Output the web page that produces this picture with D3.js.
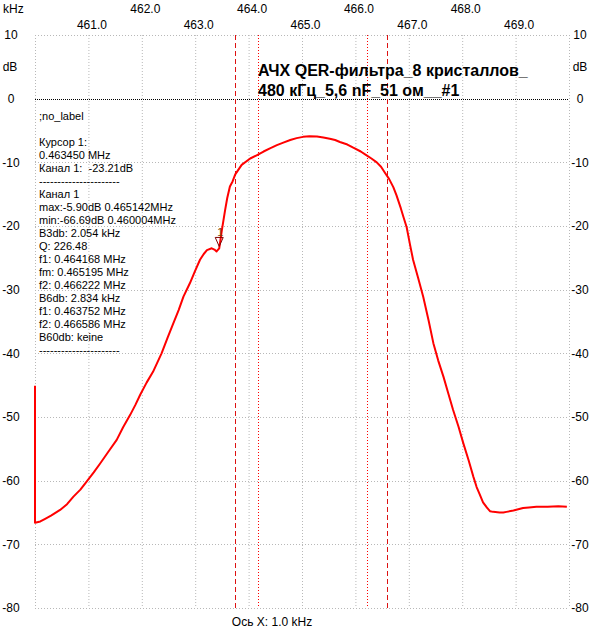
<!DOCTYPE html>
<html>
<head>
<meta charset="utf-8">
<script src="https://cdn.jsdelivr.net/npm/d3@7"></script>
<style>
body{margin:0;background:#fff;}
svg{display:block;}
text{font-family:"Liberation Sans",Arial,sans-serif;}
</style>
</head>
<body>
<svg id="chart" width="602" height="643"></svg>
<script>
// ---- data ----
const freqKHz = [460.00,460.00,460.10,460.19,460.30,460.47,460.60,460.72,460.85,460.97,461.10,461.22,461.37,461.53,461.65,461.78,461.88,461.97,462.09,462.21,462.37,462.48,462.59,462.69,462.78,462.90,463.00,463.09,463.16,463.22,463.31,463.36,463.40,463.45,463.50,463.56,463.60,463.65,463.70,463.75,463.87,464.03,464.15,464.28,464.40,464.53,464.65,464.78,464.90,465.02,465.14,465.28,465.40,465.52,465.62,465.71,465.85,465.96,466.10,466.21,466.30,466.40,466.48,466.55,466.63,466.71,466.77,466.85,466.90,466.96,467.02,467.08,467.17,467.27,467.37,467.46,467.55,467.65,467.74,467.83,467.93,468.02,468.12,468.21,468.27,468.33,468.39,468.46,468.52,468.58,468.70,468.77,468.83,468.96,469.05,469.14,469.25,469.39,469.60,469.80,469.96];
const levelDB = [-45.1,-66.6,-66.4,-66.0,-65.5,-64.6,-63.7,-62.5,-61.4,-60.1,-58.7,-57.3,-55.5,-53.6,-51.6,-49.7,-48.1,-46.5,-44.6,-42.9,-40.0,-37.6,-35.3,-33.2,-31.1,-29.0,-27.0,-25.3,-24.4,-23.8,-23.5,-23.7,-24.0,-23.5,-20.6,-17.5,-15.6,-13.8,-13.0,-11.9,-10.4,-9.4,-8.9,-8.3,-7.8,-7.3,-6.9,-6.5,-6.2,-6.0,-5.9,-5.95,-6.1,-6.3,-6.5,-6.8,-7.2,-7.7,-8.3,-8.9,-9.4,-10.0,-10.7,-11.6,-12.6,-13.9,-15.2,-17.2,-18.6,-20.2,-22.8,-25.3,-28.0,-31.1,-34.8,-38.4,-41.1,-43.7,-46.3,-48.9,-51.5,-54.1,-56.8,-59.4,-61.0,-62.2,-63.4,-64.2,-64.8,-64.9,-65.0,-65.0,-64.9,-64.7,-64.5,-64.3,-64.2,-64.1,-64.1,-64.0,-64.1];

const xTicksTop = [462,464,466,468];
const xTicksBottomRow = [461,463,465,467,469];
const xGrid = [460,461,462,463,464,465,466,467,468,469,470];
const yTicks = [10,0,-10,-20,-30,-40,-50,-60,-70,-80];

const b6Lines = [463.752, 466.586];   // dashed
const b3Lines = [464.168, 466.222];   // dotted
const cursorF = 463.450, cursorDB = -23.21;

const titleLines = ["АЧХ QER-фильтра_8 кристаллов_", "480 кГц_5,6 nF_51 ом__#1"];
const infoLines = [";no_label","","Курсор 1:","0.463450 MHz","Канал 1:  -23.21dB","----------------------","Канал 1","max:-5.90dB 0.465142MHz","min:-66.69dB 0.460004MHz","B3db: 2.054 kHz","Q: 226.48","f1: 0.464168 MHz","fm: 0.465195 MHz","f2: 0.466222 MHz","B6db: 2.834 kHz","f1: 0.463752 MHz","f2: 0.466586 MHz","B60db: keine","----------------------"];

// ---- layout ----
const L = 35, R = 569, T = 35, B = 608;
const svg = d3.select("#chart");
svg.append("rect").attr("width",602).attr("height",643).attr("fill","#fff");

const x = d3.scaleLinear().domain([460,470]).range([L,R]);
const y = d3.scaleLinear().domain([10,-80]).range([T,B]);

// grid
const grid = svg.append("g");
grid.selectAll("line.v").data(xGrid).join("line")
  .attr("x1",d=>x(d)+0.5).attr("x2",d=>x(d)+0.5).attr("y1",T).attr("y2",B)
  .attr("stroke","#b8b8b8").attr("stroke-dasharray","1,2");
grid.selectAll("line.h").data(yTicks.filter(d=>d!==0)).join("line")
  .attr("y1",d=>Math.round(y(d))+0.5).attr("y2",d=>Math.round(y(d))+0.5).attr("x1",L).attr("x2",R)
  .attr("stroke","#b8b8b8").attr("stroke-dasharray","1,2");
svg.append("line").attr("x1",L).attr("x2",R).attr("y1",Math.round(y(0))+0.5).attr("y2",Math.round(y(0))+0.5)
  .attr("stroke","#000").attr("stroke-dasharray","1,1");

// marker lines
svg.selectAll("line.b6").data(b6Lines).join("line")
  .attr("x1",d=>Math.round(x(d))+0.5).attr("x2",d=>Math.round(x(d))+0.5).attr("y1",T).attr("y2",B)
  .attr("stroke","#dd1111").attr("stroke-dasharray","5,3");
svg.selectAll("line.b3").data(b3Lines).join("line")
  .attr("x1",d=>Math.round(x(d))+0.5).attr("x2",d=>Math.round(x(d))+0.5).attr("y1",T).attr("y2",B)
  .attr("stroke","#ff0000").attr("stroke-dasharray","1,2");

// top axis (two rows)
const axTop1 = d3.axisTop(x).tickValues(xTicksTop).tickSize(0).tickPadding(0).tickFormat(d3.format(".1f"));
const axTop2 = d3.axisTop(x).tickValues(xTicksBottomRow).tickSize(0).tickPadding(0).tickFormat(d3.format(".1f"));
const gt1 = svg.append("g").attr("transform","translate(3,13)").call(axTop1);
const gt2 = svg.append("g").attr("transform","translate(3,29)").call(axTop2);
[gt1,gt2].forEach(g=>{
  g.select(".domain").remove();
  g.selectAll("text").attr("font-size",12).attr("font-family","Liberation Sans, Arial, sans-serif").attr("fill","#000");
});
svg.append("text").attr("x",3).attr("y",13).attr("font-size",12).text("kHz");

// left / right axes
const axL = d3.axisLeft(y).tickValues(yTicks).tickSize(0).tickPadding(0).tickFormat(d3.format("d"));
const axR = d3.axisLeft(y).tickValues(yTicks).tickSize(0).tickPadding(0).tickFormat(d3.format("d"));
const gl = svg.append("g").attr("transform","translate(11,0)").call(axL);
const gr = svg.append("g").attr("transform","translate(580,0)").call(axR);
[gl,gr].forEach(g=>{
  g.select(".domain").remove();
  g.selectAll("text").attr("text-anchor","middle").attr("font-size",12)
    .attr("font-family","Liberation Sans, Arial, sans-serif").attr("fill","#000")
    .text(d=>d<0 ? "-"+Math.abs(d) : String(d));
});
svg.append("text").attr("x",10).attr("y",(y(10)+y(0))/2).attr("dy","0.35em").attr("text-anchor","middle").attr("font-size",12).text("dB");
svg.append("text").attr("x",580).attr("y",(y(10)+y(0))/2).attr("dy","0.35em").attr("text-anchor","middle").attr("font-size",12).text("dB");

// x axis caption
svg.append("text").attr("x",272).attr("y",626).attr("text-anchor","middle").attr("font-size",12).text("Ось X: 1.0 kHz");

// curve
const pts = freqKHz.map((f,i)=>[f,levelDB[i]]);
const line = d3.line().x(d=>x(d[0])).y(d=>y(d[1]));
svg.append("path").datum(pts).attr("d",line).attr("fill","none")
  .attr("stroke","#ff0000").attr("stroke-width",2).attr("stroke-linejoin","round");

// cursor marker
const cx = x(cursorF), cy = y(cursorDB);
svg.append("path").attr("d",`M${cx-4},${cy-9}L${cx+4},${cy-9}L${cx},${cy}Z`)
  .attr("fill","none").attr("stroke","#800000").attr("stroke-width",1);
svg.append("text").attr("x",cx+1).attr("y",cy-10).attr("text-anchor","middle").attr("font-size",11).attr("fill","#804000").text("1");

// info block
svg.append("g").selectAll("text").data(infoLines).join("text")
  .attr("x",39).attr("y",(d,i)=>120+i*13).attr("font-size",11).attr("fill","#000")
  .style("white-space","pre").attr("xml:space","preserve").text(d=>d);

// title
svg.append("g").selectAll("text").data(titleLines).join("text")
  .attr("x",258).attr("y",(d,i)=>76+i*20).attr("font-size",16).attr("font-weight","bold").attr("fill","#000").text(d=>d);
</script>
</body>
</html>
